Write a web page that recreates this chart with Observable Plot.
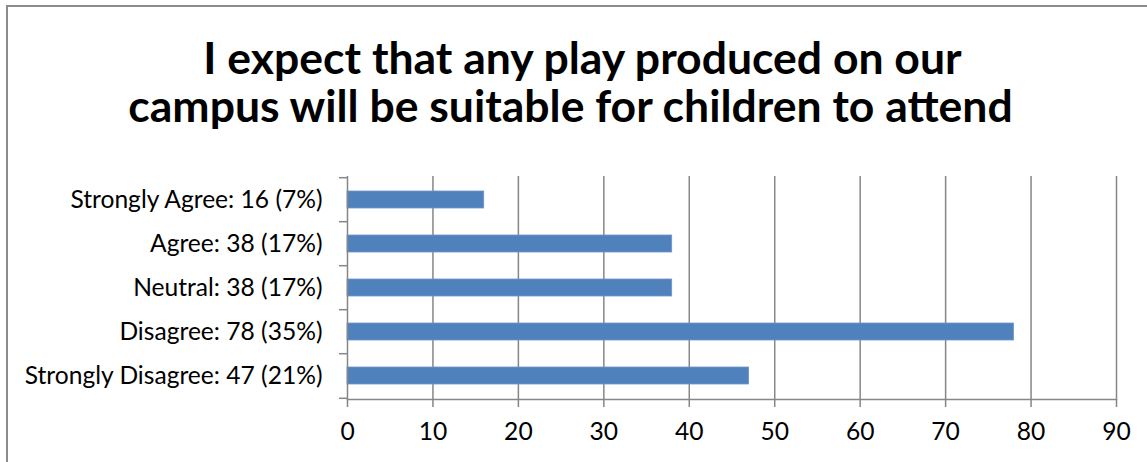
<!DOCTYPE html>
<html>
<head>
<meta charset="utf-8">
<script src="https://cdn.jsdelivr.net/npm/d3@7"></script>
<script src="https://cdn.jsdelivr.net/npm/@observablehq/plot@0.6"></script>
<style>
  html, body { margin: 0; padding: 0; background: #fff; }
  #frame {
    position: absolute; left: 6px; top: 5px; width: 1141px; height: 457px;
    border-top: 2px solid #8c8c8c; border-left: 2px solid #8c8c8c; box-sizing: border-box;
  }
  #title {
    position: absolute; left: 0; top: 0; width: 1141px; height: 148px;
    font-family: Lato, "Open Sans", sans-serif; font-weight: bold; font-size: 44.5px;
    text-align: center; color: #000; line-height: 48px; padding-top: 33px; box-sizing: border-box;
  }
  #chart { position: absolute; left: 0; top: 150px; }
</style>
</head>
<body>
<div id="frame"></div>
<div id="title"><span style="position:relative;left:12px">I expect that any play produced on our</span><br>campus will be suitable for children to attend</div>
<div id="chart"></div>
<script>
const categories = ["Strongly Agree: 16 (7%)", "Agree: 38 (17%)", "Neutral: 38 (17%)", "Disagree: 78 (35%)", "Strongly Disagree: 47 (21%)"];
const counts = [16, 38, 38, 78, 47];
const xTicks = [0, 10, 20, 30, 40, 50, 60, 70, 80, 90];

const data = categories.map((c, i) => ({category: c, count: counts[i]}));

const W = 1147, H = 312, mT = 26, mB = 63, mL = 347, mR = 31;
const step = (H - mT - mB) / categories.length;
const tickLen = 8 / ((W - mL - mR) / 90); // 8px expressed in x units
const axisColor = "#868686";

const plot = Plot.plot({
  width: W,
  height: H,
  marginLeft: mL,
  marginRight: mR,
  marginTop: mT,
  marginBottom: mB,
  style: {fontFamily: "Lato, 'Open Sans', sans-serif", fontSize: "24.6px", color: "#000", background: "transparent"},
  x: {domain: [0, 90], ticks: xTicks, label: null},
  y: {domain: categories, label: null, paddingInner: 0.61, paddingOuter: 0.305},
  marks: [
    Plot.gridX(xTicks.filter(d => d > 0), {stroke: axisColor, strokeOpacity: 1, strokeWidth: 1.5}),
    Plot.barX(data, {x: "count", y: "category", fill: "#4F81BD", stroke: "#6f96c8", strokeWidth: 0.8}),
    Plot.ruleX([0], {stroke: axisColor, strokeWidth: 1.5}),
    Plot.frame({anchor: "bottom", stroke: axisColor, strokeWidth: 1.5}),
    // y tick marks at band boundaries
    Plot.ruleY(categories, {y: d => d, x1: -tickLen, x2: 0, dy: -step / 2, stroke: axisColor, strokeWidth: 1.5}),
    Plot.ruleY([categories[categories.length - 1]], {y: d => d, x1: -tickLen, x2: 0, dy: step / 2, stroke: axisColor, strokeWidth: 1.5}),
    Plot.axisX({ticks: xTicks, tickSize: 8, tickPadding: 15, stroke: axisColor, strokeWidth: 1.5, fontSize: 24.6}),
    Plot.axisY({tickSize: 0, tickPadding: 25, fontSize: 24.6})
  ]
});
document.getElementById("chart").appendChild(plot);
</script>
</body>
</html>
